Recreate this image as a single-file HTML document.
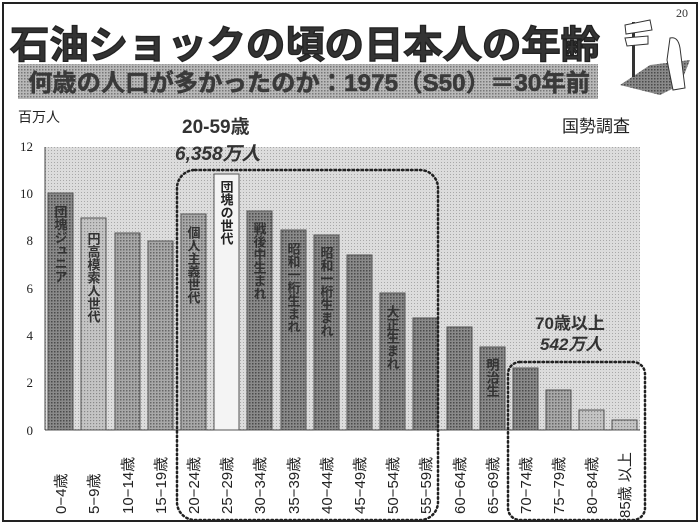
<!DOCTYPE html>
<html><head><meta charset="utf-8"><style>
html,body{margin:0;padding:0;background:#fff;}
svg{display:block;font-family:"Liberation Sans","Noto Sans CJK JP",sans-serif;}
</style></head><body>
<svg width="700" height="525" viewBox="0 0 700 525" xmlns="http://www.w3.org/2000/svg">
<defs>
<pattern id="bg" width="3" height="3" patternUnits="userSpaceOnUse"><rect width="3" height="3" fill="#dcdcdc"/><rect width="1" height="1" fill="#a8a8a8"/></pattern>
<pattern id="dk" width="3" height="3" patternUnits="userSpaceOnUse"><rect width="3" height="3" fill="#8a8a8a"/><rect width="1.5" height="1.5" fill="#4a4a4a"/></pattern>
<pattern id="md" width="3" height="3" patternUnits="userSpaceOnUse"><rect width="3" height="3" fill="#a8a8a8"/><rect width="1.5" height="1.5" fill="#666"/></pattern>
<pattern id="lt" width="3" height="3" patternUnits="userSpaceOnUse"><rect width="3" height="3" fill="#c4c4c4"/><rect width="1.2" height="1.2" fill="#888"/></pattern>
<pattern id="band" width="3" height="3" patternUnits="userSpaceOnUse"><rect width="3" height="3" fill="#b8b8b8"/><rect width="1.5" height="1.5" fill="#777"/></pattern>
</defs>
<rect x="3" y="3" width="694" height="518" fill="none" stroke="#222" stroke-width="2"/>
<text x="10" y="58" font-size="38" font-weight="bold" fill="#333" stroke="#222" stroke-width="1.3" textLength="590" lengthAdjust="spacingAndGlyphs">石油ショックの頃の日本人の年齢</text>
<text x="676" y="17" font-size="12" font-family="Liberation Serif,serif" fill="#333">20</text>
<rect x="18" y="64" width="580" height="35" fill="url(#band)"/>
<text x="28" y="91" font-size="24" font-weight="bold" fill="#3a3a3a" stroke="#3a3a3a" stroke-width="0.5" textLength="562" lengthAdjust="spacingAndGlyphs">何歳の人口が多かったのか：1975（S50）＝30年前</text>
<g>
<path d="M620 85 L650 65 L690 60 L680 85 L660 95 Z" fill="url(#dk)"/>
<rect x="632" y="22" width="3" height="55" fill="#333"/>
<path d="M625 25 L650 20 L652 30 L626 34Z M625 38 L648 36 L648 44 L627 46Z" fill="#fff" stroke="#333"/>
<path d="M670 38 q8 -2 10 10 l5 40 l-12 2 l-6 -30z" fill="#fff" stroke="#333"/>
</g>
<text x="18" y="122" font-size="14" fill="#222">百万人</text>
<text x="562" y="132" font-size="17" fill="#222">国勢調査</text>
<rect x="45" y="147" width="595" height="283" fill="url(#bg)"/>
<text x="182" y="133" font-size="19" font-weight="bold" fill="#333">20-59歳</text>
<text x="175" y="160" font-size="19" font-weight="bold" fill="#333" font-style="italic">6,358万人</text>
<line x1="45" y1="147" x2="45" y2="430" stroke="#444"/>
<line x1="45" y1="430" x2="640" y2="430" stroke="#444"/>
<g font-family="Liberation Serif,serif" font-size="13" fill="#222" text-anchor="end">
<text x="33" y="151">12</text><text x="33" y="198">10</text><text x="33" y="245">8</text><text x="33" y="293">6</text><text x="33" y="340">4</text><text x="33" y="387">2</text><text x="33" y="435">0</text>
</g>
<g stroke="#555" stroke-width="1">
<rect x="48" y="193" width="25" height="237" fill="url(#dk)"/>
<rect x="81" y="218" width="25" height="212" fill="url(#lt)"/>
<rect x="115" y="233" width="25" height="197" fill="url(#md)"/>
<rect x="148" y="241" width="25" height="189" fill="url(#md)"/>
<rect x="181" y="214" width="25" height="216" fill="url(#md)"/>
<rect x="214" y="174" width="25" height="256" fill="#f4f4f4"/>
<rect x="247" y="211" width="25" height="219" fill="url(#dk)"/>
<rect x="281" y="230" width="25" height="200" fill="url(#dk)"/>
<rect x="314" y="235" width="25" height="195" fill="url(#dk)"/>
<rect x="347" y="255" width="25" height="175" fill="url(#dk)"/>
<rect x="380" y="293" width="25" height="137" fill="url(#dk)"/>
<rect x="413" y="318" width="25" height="112" fill="url(#dk)"/>
<rect x="447" y="327" width="25" height="103" fill="url(#dk)"/>
<rect x="480" y="347" width="25" height="83" fill="url(#dk)"/>
<rect x="513" y="368" width="25" height="62" fill="url(#dk)"/>
<rect x="546" y="390" width="25" height="40" fill="url(#md)"/>
<rect x="579" y="410" width="25" height="20" fill="url(#lt)"/>
<rect x="612" y="420" width="25" height="10" fill="url(#lt)"/>
</g>
<g font-size="13" font-weight="bold" fill="#333" style="writing-mode:vertical-rl" text-anchor="start">
<text x="60" y="205">団塊ジュニア</text>
<text x="93" y="232">円高模索人世代</text>
<text x="193" y="226">個人主義世代</text>
<text x="226" y="180" fill="#222">団塊の世代</text>
<text x="259" y="222">戦後中生まれ</text>
<text x="293" y="242">昭和一桁生まれ</text>
<text x="326" y="246">昭和一桁生まれ</text>
<text x="392" y="305">大正生まれ</text>
<text x="492" y="358">明治生</text>
</g>
<g font-size="15" fill="#222">
<text transform="translate(66,514) rotate(-90)">0−4歳</text>
<text transform="translate(99,514) rotate(-90)">5−9歳</text>
<text transform="translate(133,514) rotate(-90)">10−14歳</text>
<text transform="translate(166,514) rotate(-90)">15−19歳</text>
<text transform="translate(199,514) rotate(-90)">20−24歳</text>
<text transform="translate(232,514) rotate(-90)">25−29歳</text>
<text transform="translate(265,514) rotate(-90)">30−34歳</text>
<text transform="translate(299,514) rotate(-90)">35−39歳</text>
<text transform="translate(332,514) rotate(-90)">40−44歳</text>
<text transform="translate(365,514) rotate(-90)">45−49歳</text>
<text transform="translate(398,514) rotate(-90)">50−54歳</text>
<text transform="translate(431,514) rotate(-90)">55−59歳</text>
<text transform="translate(465,514) rotate(-90)">60−64歳</text>
<text transform="translate(498,514) rotate(-90)">65−69歳</text>
<text transform="translate(531,514) rotate(-90)">70−74歳</text>
<text transform="translate(564,514) rotate(-90)">75−79歳</text>
<text transform="translate(597,514) rotate(-90)">80−84歳</text>
<text transform="translate(630,518) rotate(-90)">85歳 以上</text>
</g>
<rect x="177" y="170" width="261" height="350" rx="18" fill="none" stroke="#222" stroke-width="2.5" stroke-dasharray="1.5 3" stroke-linecap="round"/>
<rect x="508" y="362" width="137" height="158" rx="12" fill="none" stroke="#222" stroke-width="2.5" stroke-dasharray="1.5 3" stroke-linecap="round"/>
<text x="535" y="329" font-size="17" font-weight="bold" fill="#333">70歳以上</text>
<text x="540" y="350" font-size="17" font-weight="bold" font-style="italic" fill="#333">542万人</text>
</svg>
</body></html>
